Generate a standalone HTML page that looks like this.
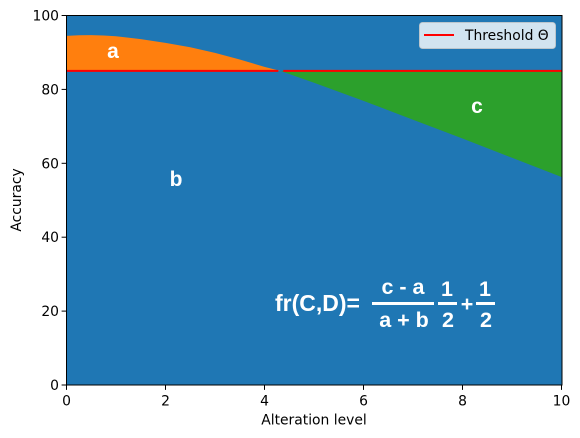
<!DOCTYPE html>
<html>
<head>
<meta charset="utf-8">
<style>
html,body{margin:0;padding:0;background:#fff;width:580px;height:438px;overflow:hidden}
svg{display:block}
text{font-family:"DejaVu Sans",sans-serif;font-size:13.89px;fill:#000}
text.ann{font-family:"Liberation Sans",Arial,sans-serif;font-weight:bold;fill:#fff}
text.s21{font-size:21px}
text.s22{font-size:21.5px}
text.s23{font-size:23px}
</style>
</head>
<body>
<svg id="chart" width="580" height="438" viewBox="0 0 580 438" xmlns="http://www.w3.org/2000/svg"></svg>
<script>
const alterationLevels = [0, 0.25, 0.5, 0.75, 1, 1.5, 2, 2.5, 3, 3.5, 4, 4.32, 5, 6, 7, 8, 9, 10];
const accuracyValues = [94.5, 94.65, 94.7, 94.6, 94.4, 93.6, 92.6, 91.4, 89.9, 88.1, 86.1, 85, 81.8, 76.9, 71.8, 66.7, 61.5, 56.3];
const thresholdValue = 85;
const thresholdGap = [4.28, 4.38];
const xTicks = [0, 2, 4, 6, 8, 10];
const yTicks = [0, 20, 40, 60, 80, 100];

const NS = 'http://www.w3.org/2000/svg';
const svg = document.getElementById('chart');
const L = 66.5, R = 561.5, T = 15.5, B = 385;
const xScale = v => L + (v / 10) * (R - L);
const yScale = v => B - (v / 100) * (B - T);

function add(tag, attrs, parent) {
  const el = document.createElementNS(NS, tag);
  for (const k in attrs) el.setAttribute(k, attrs[k]);
  (parent || svg).appendChild(el);
  return el;
}

function crossing() {
  for (let i = 1; i < alterationLevels.length; i++) {
    const a = accuracyValues[i - 1] - thresholdValue;
    const b = accuracyValues[i] - thresholdValue;
    if (a > 0 && b <= 0) {
      return alterationLevels[i - 1] + (a / (a - b)) * (alterationLevels[i] - alterationLevels[i - 1]);
    }
  }
  return alterationLevels[alterationLevels.length - 1];
}

const cx = crossing();
const baseRect = add('rect', {x: L, y: T, width: R - L, height: B - T, fill: '#1f77b4'});



const abovePts = [], belowPts = [];
alterationLevels.forEach((x, i) => {
  const p = xScale(x).toFixed(2) + ',' + yScale(accuracyValues[i]).toFixed(2);
  if (x < cx) abovePts.push(p);
  if (x > cx) belowPts.push(p);
});
const cp = xScale(cx).toFixed(2) + ',' + yScale(thresholdValue).toFixed(2);
const orange = add('polygon', {
  points: [xScale(0) + ',' + yScale(thresholdValue)].concat(abovePts, [cp]).join(' '),
  fill: '#ff7f0e'
});


const green = add('polygon', {
  points: [cp].concat(belowPts, [xScale(10) + ',' + yScale(thresholdValue)]).join(' '),
  fill: '#2ca02c'
});



const redLeft = add('line', {x1: xScale(0), x2: xScale(thresholdGap[0]), y1: yScale(thresholdValue), y2: yScale(thresholdValue), stroke: '#ff0000', 'stroke-width': 2});


const redRight = add('line', {x1: xScale(thresholdGap[1]), x2: xScale(10), y1: yScale(thresholdValue), y2: yScale(thresholdValue), stroke: '#ff0000', 'stroke-width': 2});



const frame = add('rect', {x: L, y: T, width: R - L + 0.5, height: B - T, fill: 'none', stroke: '#000', 'stroke-width': 1});



xTicks.forEach(v => {
  const mark = add('line', {x1: xScale(v), x2: xScale(v), y1: B, y2: B + 4.9, stroke: '#000', 'stroke-width': 1});
  
  
  const label = add('text', {x: xScale(v), y: 405.5, 'text-anchor': 'middle'});
  
  
  label.textContent = v;
});
yTicks.forEach(v => {
  const mark = add('line', {x1: L - 4.9, x2: L, y1: yScale(v), y2: yScale(v), stroke: '#000', 'stroke-width': 1});
  
  
  const label = add('text', {x: 59, y: yScale(v) + 5, 'text-anchor': 'end'});
  
  
  label.textContent = v;
});
</script>
<svg width="580" height="438" viewBox="0 0 580 438" xmlns="http://www.w3.org/2000/svg" style="position:absolute;left:0;top:0">
  <text x="314" y="424.5" text-anchor="middle">Alteration level</text>
  <text transform="translate(21,200) rotate(-90)" text-anchor="middle">Accuracy</text>

  <g>
    <rect x="419.5" y="22.5" width="136" height="26" rx="3" ry="3" fill="#fff" fill-opacity="0.8" stroke="#ccc" stroke-opacity="0.8"/>
    <line x1="424" x2="454" y1="35" y2="35" stroke="#ff0000" stroke-width="2"/>
    <text x="465" y="40">Threshold Θ</text>
  </g>

  <text class="ann s21" x="113" y="58" text-anchor="middle">a</text>
  <text class="ann s21" x="176" y="186" text-anchor="middle">b</text>
  <text class="ann s21" x="477" y="113" text-anchor="middle">c</text>

  <g>
    <text class="ann s23" x="275" y="311">fr(C,D)=</text>
    <text class="ann s22" x="403" y="294" text-anchor="middle">c - a</text>
    <rect x="372" y="302" width="62" height="3" fill="#fff"/>
    <text class="ann s22" x="404" y="327" text-anchor="middle">a + b</text>
    <text class="ann s22" x="447" y="296" text-anchor="middle">1</text>
    <rect x="438" y="302" width="19" height="3" fill="#fff"/>
    <text class="ann s22" x="448" y="327" text-anchor="middle">2</text>
    <text class="ann s22" x="467" y="311" text-anchor="middle">+</text>
    <text class="ann s22" x="485" y="296" text-anchor="middle">1</text>
    <rect x="476" y="302" width="19" height="3" fill="#fff"/>
    <text class="ann s22" x="486" y="327" text-anchor="middle">2</text>
  </g>
</svg>
</body>
</html>
